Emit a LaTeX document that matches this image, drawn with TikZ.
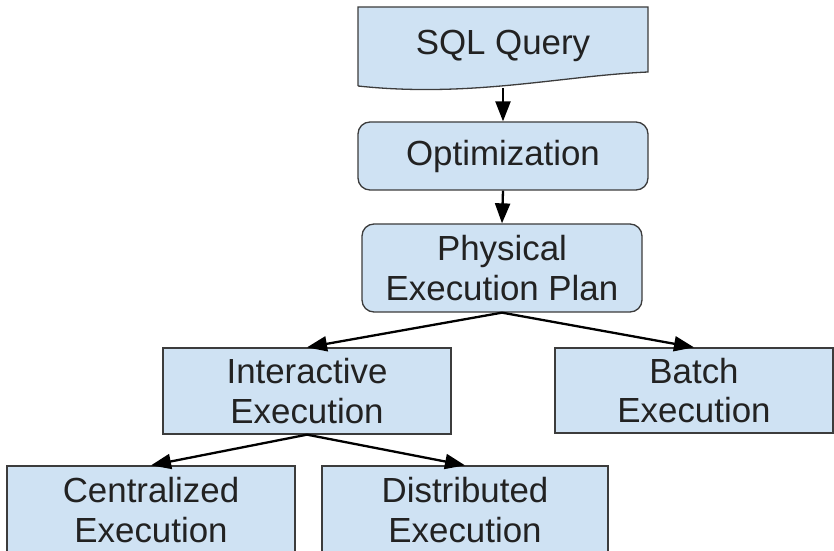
\documentclass[tikz,border=0pt]{standalone}
\usepackage{fontspec}
\setmainfont{Liberation Sans}
\usetikzlibrary{arrows.meta}
\definecolor{boxfill}{HTML}{CFE2F3}
\definecolor{boxline}{HTML}{3C3C3C}
\definecolor{txt}{HTML}{222222}
\begin{document}
\begin{tikzpicture}[x=1bp,y=-1bp,
  lbl/.style={text=txt, align=center, inner sep=0pt,
    font=\fontsize{35}{40}\selectfont},
  box/.style={lbl, draw=boxline, fill=boxfill, line width=1.3bp},
  rbox/.style={box, rounded corners=12bp},
  arr/.style={-{Triangle[length=20bp,width=15bp]}, line width=2.3bp, black}]
\useasboundingbox (0,0) rectangle (834,551);
\clip (0,0) rectangle (834,551);

% document-shaped start box with a wavy lower edge
\fill[boxfill] (358,7) -- (648,7) -- (648,72)
  .. controls (560,76) and (470,98) .. (358,86) -- cycle;
\draw[boxline, line width=1.3bp] (358,86) -- (358,7) -- (648,7) -- (648,72)
  .. controls (560,76) and (470,98) .. (358,86);
\node[lbl, minimum width=290bp, minimum height=81bp, text depth=10bp]
  (sql) at (503,47.5) {SQL Query};

\node[rbox, minimum width=290bp, minimum height=68bp] (opt) at (503,156) {Optimization};
\node[rbox, minimum width=280bp, minimum height=88bp] (phys) at (502,268) {Physical\\Execution Plan};
\node[box, minimum width=288bp, minimum height=86bp] (inter) at (307,391) {Interactive\\Execution};
\node[box, minimum width=278bp, minimum height=85bp] (batch) at (694,390.5) {Batch\\Execution};
\node[box, minimum width=288bp, minimum height=88bp] (cent) at (151,510) {Centralized\\Execution};
\node[box, minimum width=286bp, minimum height=88bp] (dist) at (465,510) {Distributed\\Execution};

\draw[arr] (sql.south) -- (opt.north);
\draw[arr] (opt.south) -- (phys.north);
\draw[arr] (phys.south) -- (inter.north);
\draw[arr] (phys.south) -- (batch.north);
\draw[arr] (inter.south) -- (cent.north);
\draw[arr] (inter.south) -- (dist.north);
\end{tikzpicture}
\end{document}
